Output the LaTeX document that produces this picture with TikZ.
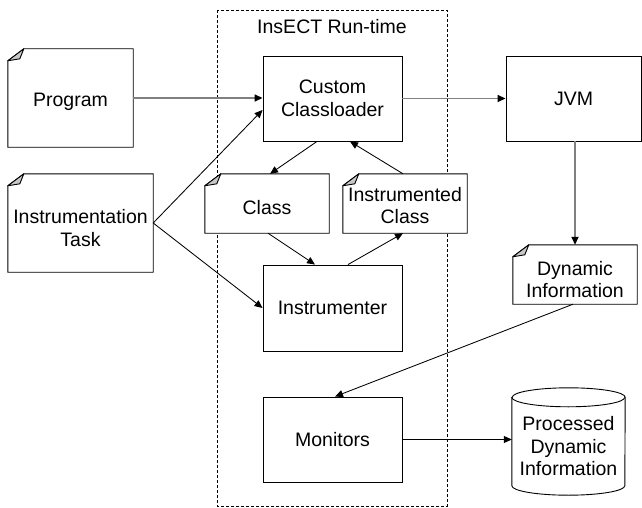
\documentclass[tikz,border=0pt]{standalone}
\usepackage{fontspec}
\setmainfont{Liberation Sans}
\usetikzlibrary{arrows.meta}
\definecolor{linegray}{RGB}{128,128,128}
\definecolor{foldgray}{RGB}{200,200,200}
\pgfdeclarelayer{bg}
\pgfsetlayers{bg,main}
\newcommand\notedraw[1]{%
  \draw[boxline,fill=white,line join=miter] ([yshift=-12pt]#1.north west) -- (#1.south west) -- (#1.south east) -- (#1.north east) -- ([xshift=16pt]#1.north west) -- cycle;
  \draw[boxline,fill=foldgray,line join=round] ([xshift=16pt]#1.north west) -- ([xshift=12pt,yshift=-10pt]#1.north west) -- ([yshift=-12pt]#1.north west) -- cycle;}
\begin{document}
\begin{tikzpicture}[x=1pt,y=1pt,
  boxline/.style={line width=0.9pt,draw=black},
  txt/.style={align=center,font=\fontsize{19.5}{22.5}\selectfont},
  plainbox/.style={txt,boxline,fill=white,inner sep=0pt},
  notebox/.style={inner sep=0pt},
  conn/.style={line width=0.85pt,-{Triangle[length=8pt,width=7pt]}},
  gconn/.style={line width=1.6pt,draw=linegray,-{Triangle[length=8pt,width=7pt,color=black]}},
]
\useasboundingbox (0,0) rectangle (642,-508);
% frame
\begin{pgfonlayer}{bg}
\draw[line width=0.8pt,dash pattern=on 3pt off 2pt] (217,-10) rectangle (447,-506);
\end{pgfonlayer}
\node[txt] (title) at (332,-27) {InsECT Run-time};

% notes
\node[notebox,minimum width=125pt,minimum height=98pt,label={[txt,yshift=-4pt]center:Program}] (prog) at (70.5,-98) {};
\node[notebox,minimum width=145pt,minimum height=98pt,label={[txt,yshift=-5pt]center:{Instrumentation\\Task}}] (itask) at (80.5,-223) {};
\node[notebox,minimum width=124pt,minimum height=59pt,label={[txt,yshift=-4pt]center:Class}] (cls) at (267,-203.5) {};
\node[notebox,minimum width=124pt,minimum height=59pt,label={[txt,yshift=-2pt]center:{Instrumented\\Class}}] (icls) at (405,-203.5) {};
\node[notebox,minimum width=124pt,minimum height=59pt,label={[txt,yshift=-5pt]center:{Dynamic\\Information}}] (dinfo) at (575,-274.5) {};
\begin{pgfonlayer}{bg}
\notedraw{prog}
\notedraw{itask}
\notedraw{cls}
\notedraw{icls}
\notedraw{dinfo}
\end{pgfonlayer}

% boxes
\node[plainbox,minimum width=139pt,minimum height=85pt] (ccl) at (332.5,-98.5) {Custom\\Classloader};
\node[plainbox,minimum width=135pt,minimum height=85pt] (jvm) at (573.5,-98.5) {JVM};
\node[plainbox,minimum width=139pt,minimum height=86pt] (instr) at (332.5,-308) {Instrumenter};
\node[plainbox,minimum width=139pt,minimum height=85pt] (mon) at (332.5,-439.5) {Monitors};

% cylinder
\node[notebox,minimum width=113pt,minimum height=107pt,label={[txt,yshift=-5pt]center:{Processed\\Dynamic\\Information}}] (cyl) at (568.5,-441.5) {};
\begin{pgfonlayer}{bg}
\draw[boxline,fill=white] ([yshift=-9.5pt]cyl.north west) -- ([yshift=9.5pt]cyl.south west)
  arc[start angle=180,end angle=360,x radius=56.5pt,y radius=9.5pt]
  -- ([yshift=-9.5pt]cyl.north east)
  arc[start angle=0,end angle=180,x radius=56.5pt,y radius=9.5pt] -- cycle;
\draw[boxline] ([yshift=-9.5pt]cyl.north west) arc[start angle=180,end angle=360,x radius=56.5pt,y radius=9.5pt];
\end{pgfonlayer}

% connectors
\draw[gconn] (prog.east) -- (prog.east -| ccl.west);
\draw[gconn] (ccl.east) -- (jvm.west);
\draw[gconn] ([xshift=1.5pt]jvm.south) -- (dinfo.north);
\draw[conn] (itask.east) -- ([yshift=-11.5pt]ccl.west);
\draw[conn] (itask.east) -- (instr.west);
\draw[conn] ([xshift=-15.5pt]ccl.south) -- ([xshift=3pt]cls.north);
\draw[conn] ([xshift=-2pt]icls.north) -- ([xshift=17.5pt]ccl.south);
\draw[conn] ([xshift=1pt]cls.south) -- ([xshift=-17.5pt]instr.north);
\draw[conn] ([xshift=15.5pt]instr.north) -- ([xshift=-2pt]icls.south);
\draw[conn] ([xshift=-2pt]dinfo.south) -- ([xshift=2.5pt]mon.north);
\draw[conn] (mon.east) -- (mon.east -| cyl.west);
\end{tikzpicture}
\end{document}
